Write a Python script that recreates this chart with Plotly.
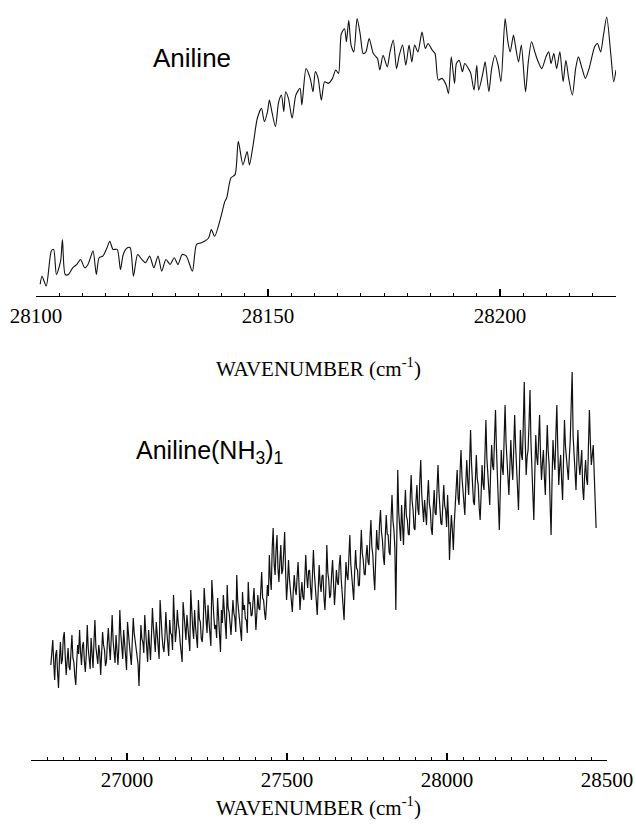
import numpy as np
import plotly.graph_objects as go

# ---------------- Top panel: Aniline ----------------
top_wn = [28100.9, 28101.3, 28102.2, 28103.3, 28103.8, 28104.4, 28105.3, 28105.7, 28106.3, 28107.0,
          28107.9, 28108.8, 28109.6, 28110.5, 28111.2, 28112.3, 28113.0, 28113.6, 28114.4, 28115.3,
          28115.9, 28116.6, 28117.5, 28118.2, 28118.8, 28119.7, 28120.3, 28121.0, 28121.9, 28122.8,
          28123.6, 28124.5, 28125.4, 28126.3, 28127.1, 28128.0, 28128.9, 28129.8, 28130.6, 28131.5,
          28132.4, 28133.7, 28134.6, 28135.5, 28136.3, 28137.2, 28137.8, 28138.5, 28139.8, 28140.7,
          28141.1, 28142.0, 28142.9, 28143.6, 28144.6, 28145.5, 28146.0, 28146.8, 28147.7, 28148.6,
          28149.2, 28149.9, 28150.3, 28150.9, 28151.6, 28152.3, 28152.9, 28153.4, 28153.8, 28154.4,
          28155.2, 28156.0, 28156.9, 28157.3, 28158.2, 28159.1, 28159.7, 28160.2, 28160.8, 28161.5,
          28162.2, 28163.0, 28163.9, 28164.6, 28165.2, 28165.8, 28166.5, 28166.9, 28167.4, 28167.9,
          28168.5, 28169.2, 28169.9, 28170.5, 28171.1, 28171.8, 28172.7, 28173.6, 28174.1, 28174.8,
          28175.7, 28176.3, 28177.0, 28177.7, 28178.3, 28179.0, 28179.7, 28180.4, 28181.0, 28181.6,
          28182.3, 28183.2, 28183.9, 28184.5, 28185.4, 28186.0, 28186.7, 28187.5, 28188.4, 28188.9,
          28189.5, 28190.2, 28190.6, 28191.2, 28191.9, 28192.4, 28193.2, 28193.7, 28194.4, 28195.0,
          28195.4, 28196.3, 28196.8, 28197.6, 28198.2, 28198.9, 28199.6, 28200.2, 28201.1, 28201.7,
          28202.2, 28202.9, 28203.3, 28204.0, 28204.6, 28205.5, 28206.1, 28206.8, 28207.5, 28208.1,
          28209.0, 28209.9, 28210.5, 28211.0, 28211.6, 28212.2, 28212.9, 28213.6, 28214.2, 28214.8,
          28215.6, 28216.3, 28216.9, 28217.7, 28218.4, 28219.2, 28220.4, 28221.0, 28221.7, 28222.3,
          28223.0, 28223.9, 28224.5, 28225.0]
top_int = [4.2, 7.1, 3.6, 16.1, 16.7, 7.7, 12.5, 20.2, 7.7, 7.7,
           10.1, 11.3, 13.1, 10.1, 11.3, 16.1, 7.7, 13.7, 14.3, 17.3,
           19.6, 16.7, 16.7, 9.5, 14.9, 17.3, 17.3, 7.1, 14.9, 13.1,
           11.9, 14.3, 10.1, 14.3, 8.9, 13.1, 11.3, 13.7, 11.3, 14.9,
           14.3, 8.9, 18.5, 19.0, 19.6, 20.8, 23.8, 21.4, 28.0, 33.9,
           35.1, 42.3, 43.5, 55.4, 47.0, 51.8, 47.0, 54.2, 63.7, 67.3,
           62.5, 66.1, 70.2, 65.5, 60.7, 69.6, 72.0, 66.1, 73.2, 70.8,
           63.7, 72.0, 74.4, 68.5, 81.5, 78.0, 73.2, 80.4, 78.0, 70.2,
           76.8, 76.2, 78.0, 81.0, 79.8, 94.0, 95.8, 91.1, 98.8, 89.9,
           87.5, 99.4, 93.5, 86.9, 87.5, 92.3, 86.9, 85.1, 81.0, 86.3,
           82.1, 87.5, 91.7, 81.5, 86.3, 89.9, 82.7, 89.9, 83.9, 89.9,
           87.5, 94.6, 88.7, 90.5, 88.1, 86.9, 77.4, 78.0, 75.6, 72.6,
           85.7, 76.2, 83.3, 84.5, 80.4, 83.3, 81.5, 79.8, 73.8, 82.7,
           73.8, 79.8, 83.9, 73.2, 81.5, 86.3, 82.7, 76.8, 99.4, 91.1,
           87.5, 93.5, 89.9, 83.9, 89.9, 73.2, 83.9, 91.1, 87.5, 84.5,
           81.5, 85.7, 87.5, 83.3, 86.9, 81.5, 87.5, 76.8, 84.5, 78.0,
           72.0, 81.5, 85.7, 81.5, 78.0, 81.5, 89.3, 90.5, 87.5, 93.5,
           100.0, 86.3, 76.8, 81.0]
top_ticks = [28100, 28150, 28200]
top_tick_labels = ["28100", "28150", "28200"]

# ---------------- Bottom panel: Aniline(NH3)1 ----------------
bottom_int = [
    95, 112, 120, 98, 80, 105, 110, 88, 72, 101, 118, 96, 100, 122, 128, 104, 85, 99, 112, 93, 90, 108, 125, 102, 98, 84, 75, 97, 115, 106,
    130, 108, 95, 114, 118, 99, 88, 106, 135, 112, 100, 91, 122, 109, 92, 118, 140, 113, 105, 96, 115, 107, 85, 102, 128, 115, 110, 94, 98, 117,
    132, 114, 100, 121, 145, 119, 108, 97, 125, 111, 95, 113, 150, 126, 112, 101, 130, 118, 102, 90, 138, 122, 115, 105, 95, 119, 142, 127, 120, 108,
    105, 96, 74, 99, 135, 121, 118, 107, 145, 128, 110, 98, 130, 117, 100, 124, 152, 133, 120, 108, 138, 125, 112, 101, 160, 137, 125, 113, 108, 122,
    148, 129, 115, 104, 140, 127, 125, 110, 165, 138, 118, 130, 150, 136, 130, 117, 110, 98, 158, 141, 135, 120, 145, 131, 120, 109, 170, 146, 132, 121,
    150, 133, 125, 112, 160, 141, 138, 121, 118, 134, 172, 149, 140, 127, 155, 139, 128, 114, 180, 153, 145, 131, 135, 122, 162, 144, 120, 108, 150, 137,
    165, 146, 135, 121, 175, 152, 148, 133, 125, 141, 160, 147, 142, 128, 185, 159, 150, 136, 130, 119, 168, 150, 155, 141, 140, 127, 178, 156, 158, 144,
    145, 158, 172, 151, 130, 147, 165, 152, 150, 168, 188, 162, 160, 148, 140, 155, 175, 164, 205, 182, 170, 212, 232, 196, 185, 210, 225, 192, 178, 199,
    215, 186, 190, 208, 228, 188, 160, 177, 200, 181, 170, 155, 148, 169, 185, 171, 165, 183, 198, 175, 150, 166, 178, 163, 160, 181, 205, 184, 172, 189,
    190, 172, 160, 185, 210, 187, 175, 158, 145, 170, 195, 176, 168, 184, 185, 163, 150, 172, 215, 188, 180, 162, 165, 186, 200, 177, 155, 171, 190, 178,
    175, 195, 205, 181, 165, 150, 140, 172, 198, 184, 180, 203, 225, 196, 185, 168, 160, 188, 210, 192, 190, 174, 175, 205, 230, 207, 200, 186, 185, 204,
    215, 198, 195, 222, 240, 213, 205, 184, 170, 201, 230, 212, 210, 236, 250, 228, 220, 203, 195, 224, 245, 226, 225, 208, 205, 241, 265, 239, 230, 212,
    150, 221, 290, 248, 235, 219, 255, 236, 215, 247, 270, 244, 240, 226, 225, 262, 285, 259, 250, 232, 230, 258, 275, 251, 245, 279, 300, 266, 255, 238,
    260, 242, 235, 263, 280, 256, 250, 231, 225, 252, 270, 247, 245, 271, 295, 268, 255, 237, 235, 259, 275, 254, 250, 233, 265, 241, 200, 226, 245, 230,
    210, 237, 260, 281, 290, 262, 255, 287, 310, 283, 270, 251, 245, 276, 300, 279, 265, 298, 330, 296, 280, 258, 255, 283, 305, 281, 275, 252, 240, 266,
    295, 276, 270, 305, 340, 302, 285, 264, 255, 291, 315, 294, 290, 322, 350, 311, 275, 251, 230, 270, 310, 292, 285, 321, 355, 318, 295, 270, 265, 293,
    320, 296, 280, 311, 345, 314, 295, 266, 250, 289, 330, 306, 300, 336, 378, 321, 285, 303, 310, 337, 370, 318, 290, 262, 240, 286, 325, 303, 295, 320,
    345, 305, 280, 297, 310, 283, 265, 302, 335, 309, 295, 256, 225, 279, 320, 301, 290, 325, 355, 312, 275, 293, 305, 280, 260, 301, 340, 314, 300, 287,
    280, 302, 320, 355, 388, 324, 300, 281, 270, 303, 330, 298, 285, 296, 310, 272, 260, 285, 300, 281, 275, 314, 350, 318, 295, 305, 315, 287, 265, 232,
]
bottom_wn_start = 26762
bottom_wn_end = 28466
bottom_wn = np.linspace(bottom_wn_start, bottom_wn_end, len(bottom_int))
bottom_ticks = [27000, 27500, 28000, 28500]
bottom_tick_labels = ["27000", "27500", "28000", "28500"]

W, H = 636, 825


def px_x(p):
    return p / W


def px_y(p):
    return 1 - p / H


fig = go.Figure()
fig.add_trace(go.Scatter(x=top_wn, y=top_int, mode="lines",
                         line=dict(color="#111111", width=1.1, shape="spline", smoothing=0.7),
                         xaxis="x", yaxis="y", showlegend=False, hoverinfo="skip"))
fig.add_trace(go.Scatter(x=bottom_wn, y=bottom_int, mode="lines",
                         line=dict(color="#111111", width=1.2),
                         xaxis="x2", yaxis="y2", showlegend=False, hoverinfo="skip"))

serif = "Liberation Serif, Times New Roman, serif"
sans = "Liberation Sans, Arial, sans-serif"

axis_common = dict(showline=True, linecolor="black", linewidth=1.3, showgrid=False,
                   zeroline=False, ticks="inside", ticklen=7, tickwidth=1.2,
                   tickcolor="black", tickfont=dict(family=serif, size=21, color="black"),
                   mirror=False, fixedrange=True, automargin=False)

fig.update_layout(
    width=W, height=H,
    margin=dict(l=0, r=0, t=0, b=0, autoexpand=False),
    paper_bgcolor="white", plot_bgcolor="white",
    xaxis=dict(domain=[px_x(36), px_x(616)], range=[28100, 28225], anchor="y",
               tickmode="array", tickvals=top_ticks, ticktext=top_tick_labels,
               minor=dict(dtick=5, tick0=28100, ticks="inside", ticklen=3,
                          tickcolor="black", tickwidth=1, showgrid=False),
               **axis_common),
    yaxis=dict(domain=[px_y(296), px_y(10)], range=[0, 102.5], visible=False,
               fixedrange=True),
    xaxis2=dict(domain=[px_x(31), px_x(607)], range=[26700, 28500], anchor="y2",
                tickmode="array", tickvals=bottom_ticks, ticktext=bottom_tick_labels,
                minor=dict(dtick=50, tick0=26700, ticks="inside", ticklen=3,
                           tickcolor="black", tickwidth=1, showgrid=False),
                **axis_common),
    yaxis2=dict(domain=[px_y(760), px_y(370)], range=[0, 390], visible=False,
                fixedrange=True),
)

annots = [
    dict(text="Aniline", x=px_x(192), y=px_y(58), font=dict(family=sans, size=26)),
    dict(text="WAVENUMBER (cm<sup>-1</sup>)", x=0.5, y=px_y(367),
         font=dict(family=serif, size=21)),
    dict(text="Aniline(NH<sub>3</sub>)<sub>1</sub>", x=px_x(209), y=px_y(452),
         font=dict(family=sans, size=25)),
    dict(text="WAVENUMBER (cm<sup>-1</sup>)", x=0.5, y=px_y(806),
         font=dict(family=serif, size=21)),
]
for a in annots:
    a["font"]["color"] = "black"
    fig.add_annotation(xref="paper", yref="paper", showarrow=False,
                       xanchor="center", yanchor="middle", **a)

fig.write_html("out.html",
               config={"displayModeBar": False, "staticPlot": True},
               post_script="document.body.style.margin='0px';document.body.style.overflow='hidden';")
